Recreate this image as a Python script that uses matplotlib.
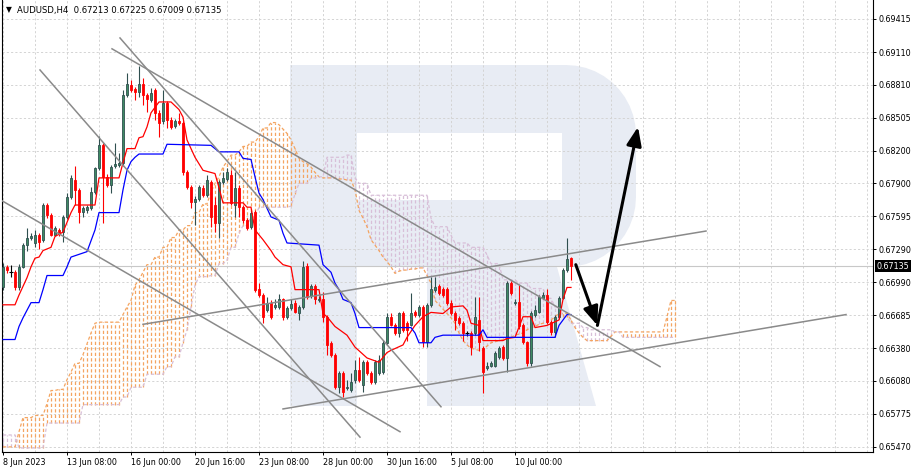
import numpy as np
import matplotlib.pyplot as plt
from matplotlib.path import Path
from matplotlib.patches import PathPatch
from matplotlib.transforms import blended_transform_factory

title = 'AUDUSD,H4  0.67213 0.67225 0.67009 0.67135'
last_price = 0.67135

# H4 candles, one entry per bar
open_ = [0.6694, 0.6713, 0.6708, 0.6708, 0.6694, 0.6713, 0.6733, 0.6740, 0.6735, 0.6742,
         0.6738, 0.6770, 0.6761, 0.6742, 0.6747, 0.6745, 0.6759, 0.6777, 0.6793, 0.6784,
         0.6764, 0.6765, 0.6767, 0.6782, 0.6804, 0.6825, 0.6796, 0.6788, 0.6806, 0.6807,
         0.6809, 0.6871, 0.6881, 0.6877, 0.6874, 0.6882, 0.6871, 0.6867, 0.6876, 0.6855,
         0.6847, 0.6864, 0.6848, 0.6843, 0.6847, 0.6846, 0.6800, 0.6787, 0.6773, 0.6776,
         0.6786, 0.6779, 0.6791, 0.6770, 0.6753, 0.6791, 0.6794, 0.6798, 0.6770, 0.6786,
         0.6768, 0.6756, 0.6750, 0.6764, 0.6693, 0.6687, 0.6673, 0.6680, 0.6676, 0.6676,
         0.6683, 0.6667, 0.6675, 0.6680, 0.6670, 0.6676, 0.6714, 0.6686, 0.6695, 0.6682,
         0.6683, 0.6667, 0.6643, 0.6632, 0.6602, 0.6615, 0.6601, 0.6599, 0.6609, 0.6618,
         0.6604, 0.6625, 0.6615, 0.6607, 0.6615, 0.6616, 0.6643, 0.6667, 0.6659, 0.6652,
         0.6670, 0.6661, 0.6659, 0.6671, 0.6669, 0.6676, 0.6644, 0.6678, 0.6692, 0.6695,
         0.6693, 0.6693, 0.6680, 0.6670, 0.6666, 0.6661, 0.6652, 0.6652, 0.6652, 0.6664,
         0.6638, 0.6620, 0.6622, 0.6622, 0.6630, 0.6639, 0.6629, 0.6698, 0.6680, 0.6681,
         0.6659, 0.6644, 0.6624, 0.6669, 0.6671, 0.6684, 0.6687, 0.6662, 0.6653, 0.6667,
         0.6684, 0.6710, 0.67213]
high = [0.6717, 0.6715, 0.6715, 0.6710, 0.6716, 0.6735, 0.6749, 0.6744, 0.6747, 0.6744,
        0.6772, 0.6772, 0.6763, 0.6751, 0.6749, 0.6761, 0.6781, 0.6798, 0.6806, 0.6786,
        0.6769, 0.6770, 0.6787, 0.6805, 0.6834, 0.6827, 0.6799, 0.6807, 0.6827, 0.6818,
        0.6876, 0.6892, 0.6885, 0.6879, 0.6898, 0.6887, 0.6873, 0.6878, 0.6878, 0.6858,
        0.6876, 0.6866, 0.6851, 0.6849, 0.6855, 0.6847, 0.6802, 0.6788, 0.6778, 0.6788,
        0.6788, 0.6798, 0.6793, 0.6777, 0.6793, 0.6800, 0.6804, 0.6802, 0.6800, 0.6788,
        0.6770, 0.6758, 0.6765, 0.6765, 0.6698, 0.6689, 0.6685, 0.6682, 0.6683, 0.6688,
        0.6684, 0.6677, 0.6683, 0.6682, 0.6678, 0.6718, 0.6717, 0.6697, 0.6697, 0.6686,
        0.6690, 0.6669, 0.6645, 0.6634, 0.6617, 0.6617, 0.6609, 0.6615, 0.6627, 0.6630,
        0.6627, 0.6627, 0.6617, 0.6627, 0.6632, 0.6646, 0.6670, 0.6670, 0.6661, 0.6671,
        0.6672, 0.6663, 0.6689, 0.6673, 0.6678, 0.6678, 0.6680, 0.6704, 0.6704, 0.6697,
        0.6694, 0.6694, 0.6682, 0.6672, 0.6668, 0.6663, 0.6654, 0.6654, 0.6685, 0.6685,
        0.6640, 0.6625, 0.6626, 0.6635, 0.6640, 0.6641, 0.6700, 0.6700, 0.6683, 0.6696,
        0.6661, 0.6645, 0.6672, 0.6678, 0.6687, 0.6690, 0.6693, 0.6664, 0.6669, 0.6686,
        0.6712, 0.6740, 0.67225]
low = [0.6692, 0.6707, 0.6704, 0.6692, 0.6692, 0.6712, 0.6728, 0.6738, 0.6731, 0.6729,
       0.6736, 0.6758, 0.6741, 0.6741, 0.6741, 0.6736, 0.6757, 0.6776, 0.6770, 0.6753,
       0.6759, 0.6763, 0.6765, 0.6780, 0.6802, 0.6753, 0.6787, 0.6781, 0.6804, 0.6805,
       0.6806, 0.6870, 0.6874, 0.6867, 0.6870, 0.6862, 0.6856, 0.6865, 0.6848, 0.6833,
       0.6845, 0.6841, 0.6840, 0.6841, 0.6844, 0.6798, 0.6785, 0.6767, 0.6752, 0.6774,
       0.6777, 0.6777, 0.6750, 0.6745, 0.6740, 0.6789, 0.6792, 0.6770, 0.6759, 0.6759,
       0.6753, 0.6747, 0.6748, 0.6690, 0.6685, 0.6661, 0.6671, 0.6665, 0.6674, 0.6674,
       0.6664, 0.6665, 0.6673, 0.6670, 0.6664, 0.6674, 0.6683, 0.6684, 0.6679, 0.6681,
       0.6662, 0.6632, 0.6630, 0.6600, 0.6597, 0.6593, 0.6599, 0.6598, 0.6606, 0.6607,
       0.6598, 0.6613, 0.6605, 0.6605, 0.6613, 0.6614, 0.6641, 0.6658, 0.6650, 0.6648,
       0.6653, 0.6645, 0.6658, 0.6667, 0.6667, 0.6639, 0.6639, 0.6676, 0.6690, 0.6687,
       0.6685, 0.6678, 0.6669, 0.6655, 0.6659, 0.6645, 0.6649, 0.6632, 0.6650, 0.6635,
       0.6597, 0.6618, 0.6621, 0.6621, 0.6628, 0.6627, 0.6616, 0.6687, 0.6678, 0.6656,
       0.6642, 0.6622, 0.6622, 0.6667, 0.6670, 0.6683, 0.6660, 0.6650, 0.6648, 0.6665,
       0.6683, 0.6708, 0.67009]
close = [0.6713, 0.6710, 0.6708, 0.6694, 0.6713, 0.6733, 0.6740, 0.6741, 0.6742, 0.6736,
         0.6770, 0.6761, 0.6742, 0.6749, 0.6743, 0.6759, 0.6777, 0.6795, 0.6784, 0.6764,
         0.6767, 0.6768, 0.6782, 0.6804, 0.6825, 0.6796, 0.6788, 0.6805, 0.6808, 0.6809,
         0.6871, 0.6882, 0.6876, 0.6874, 0.6882, 0.6871, 0.6868, 0.6873, 0.6855, 0.6846,
         0.6864, 0.6848, 0.6842, 0.6847, 0.6846, 0.6800, 0.6787, 0.6773, 0.6776, 0.6787,
         0.6779, 0.6793, 0.6759, 0.6753, 0.6791, 0.6795, 0.6800, 0.6772, 0.6786, 0.6768,
         0.6756, 0.6749, 0.6763, 0.6692, 0.6687, 0.6667, 0.6680, 0.6667, 0.6678, 0.6683,
         0.6667, 0.6675, 0.6679, 0.6671, 0.6676, 0.6713, 0.6685, 0.6695, 0.6683, 0.6683,
         0.6667, 0.6641, 0.6632, 0.6602, 0.6615, 0.6598, 0.6602, 0.6607, 0.6618, 0.6609,
         0.6625, 0.6615, 0.6607, 0.6625, 0.6627, 0.6643, 0.6667, 0.6659, 0.6652, 0.6670,
         0.6655, 0.6655, 0.6670, 0.6669, 0.6676, 0.6644, 0.6678, 0.6693, 0.6694, 0.6689,
         0.6687, 0.6680, 0.6670, 0.6664, 0.6661, 0.6652, 0.6652, 0.6639, 0.6667, 0.6644,
         0.6616, 0.6622, 0.6624, 0.6634, 0.6638, 0.6629, 0.6698, 0.6689, 0.6681, 0.6658,
         0.6644, 0.6624, 0.6670, 0.6673, 0.6685, 0.6687, 0.6662, 0.6653, 0.6667, 0.6684,
         0.6710, 0.6720, 0.67135]

# Ichimoku lines (bar index, price)
tenkan_bar = [0, 3, 4, 6, 7, 8, 9, 10, 12, 13, 15, 16, 17, 18, 23, 24, 29, 30, 31, 33,
              34, 35, 36, 37, 39, 42, 44, 45, 46, 48, 50, 53, 54, 55, 60, 61, 62, 63, 65, 67,
              68, 70, 72, 73, 79, 80, 81, 83, 86, 88, 91, 94, 96, 97, 100, 101, 103, 105, 107, 110,
              112, 115, 116, 117, 119, 120, 125, 126, 128, 130, 132, 133, 136, 139, 140, 141, 142]
tenkan = [0.6678, 0.6678, 0.6687, 0.6703, 0.6713, 0.6721, 0.6722, 0.6728, 0.6731, 0.6741,
          0.6745, 0.6754, 0.6763, 0.6770, 0.6770, 0.6795, 0.6795, 0.6809, 0.6822, 0.6822,
          0.6832, 0.6833, 0.6842, 0.6855, 0.6865, 0.6865, 0.6858, 0.6851, 0.6830, 0.6814,
          0.6802, 0.6799, 0.6786, 0.6772, 0.6772, 0.6768, 0.6768, 0.6747, 0.6738, 0.6728,
          0.6722, 0.6715, 0.6713, 0.6692, 0.6692, 0.6670, 0.6667, 0.6658, 0.6650, 0.6639,
          0.6629, 0.6625, 0.6634, 0.6636, 0.6641, 0.6648, 0.6659, 0.6667, 0.6671, 0.6670,
          0.6676, 0.6677, 0.6673, 0.6661, 0.6659, 0.6645, 0.6645, 0.6647, 0.6648, 0.6667,
          0.6667, 0.6657, 0.6659, 0.6664, 0.6683, 0.6694, 0.6694]
kijun_bar = [0, 3, 4, 5, 7, 9, 10, 11, 15, 16, 17, 21, 23, 24, 29, 30, 31, 32, 33, 34,
             40, 41, 52, 54, 59, 60, 62, 63, 64, 65, 67, 69, 70, 71, 79, 80, 82, 83, 84, 85,
             87, 88, 89, 102, 103, 104, 107, 108, 110, 119, 120, 121, 138, 139, 141, 142]
kijun = [0.6646, 0.6646, 0.6658, 0.6666, 0.6680, 0.6680, 0.6692, 0.6705, 0.6705, 0.6713,
         0.6722, 0.6727, 0.6747, 0.6763, 0.6763, 0.6784, 0.6802, 0.6810, 0.6814, 0.6817,
         0.6817, 0.6826, 0.6825, 0.6819, 0.6819, 0.6813, 0.6812, 0.6796, 0.6781, 0.6775,
         0.6759, 0.6756, 0.6744, 0.6735, 0.6733, 0.6715, 0.6708, 0.6698, 0.6692, 0.6683,
         0.6680, 0.6670, 0.6657, 0.6657, 0.6652, 0.6643, 0.6643, 0.6648, 0.6650, 0.6650,
         0.6655, 0.6648, 0.6648, 0.6659, 0.6669, 0.6669]

# cloud spans, one value per bar (already shifted 26 bars ahead)
span_a = [0.6547, 0.6547, 0.6547, 0.6547, 0.6561, 0.6574, 0.6574, 0.6574, 0.6576, 0.6576,
          0.6576, 0.6587, 0.6599, 0.6599, 0.6600, 0.6600, 0.6609, 0.6616, 0.6624, 0.6624,
          0.6632, 0.6642, 0.6652, 0.6661, 0.6662, 0.6662, 0.6662, 0.6662, 0.6662, 0.6662,
          0.6669, 0.6676, 0.6682, 0.6696, 0.6701, 0.6708, 0.6715, 0.6715, 0.6722, 0.6722,
          0.6731, 0.6731, 0.6740, 0.6740, 0.6747, 0.6747, 0.6751, 0.6751, 0.6763, 0.6763,
          0.6771, 0.6771, 0.6782, 0.6790, 0.6796, 0.6805, 0.6810, 0.6816, 0.6816, 0.6819,
          0.6824, 0.6824, 0.6828, 0.6828, 0.6833, 0.6841, 0.6841, 0.6846, 0.6846, 0.6844,
          0.6840, 0.6836, 0.6830, 0.6822, 0.6813, 0.6810, 0.6808, 0.6805, 0.6800, 0.6796,
          0.6795, 0.6795, 0.6795, 0.6795, 0.6794, 0.6794, 0.6793, 0.6793, 0.6784, 0.6765,
          0.6758, 0.6750, 0.6738, 0.6733, 0.6728, 0.6722, 0.6718, 0.6713, 0.6707, 0.6709,
          0.6710, 0.6710, 0.6711, 0.6711, 0.6712, 0.6712, 0.6705, 0.6698, 0.6682, 0.6678,
          0.6674, 0.6670, 0.6666, 0.6661, 0.6652, 0.6645, 0.6641, 0.6638, 0.6637, 0.6636,
          0.6636, 0.6640, 0.6643, 0.6644, 0.6645, 0.6646, 0.6647, 0.6648, 0.6650, 0.6651,
          0.6652, 0.6655, 0.6657, 0.6658, 0.6660, 0.6661, 0.6662, 0.6664, 0.6667, 0.6670,
          0.6670, 0.6670, 0.6664, 0.6657, 0.6652, 0.6648, 0.6645, 0.6645, 0.6645, 0.6645,
          0.6645, 0.6645, 0.6649, 0.6653, 0.6653, 0.6653, 0.6653, 0.6653, 0.6653, 0.6653,
          0.6653, 0.6653, 0.6653, 0.6653, 0.6653, 0.6653, 0.6667, 0.6682, 0.6682]
span_b = [0.6558, 0.6558, 0.6558, 0.6558, 0.6546, 0.6546, 0.6546, 0.6546, 0.6546, 0.6546,
          0.6546, 0.6569, 0.6569, 0.6569, 0.6569, 0.6569, 0.6569, 0.6569, 0.6569, 0.6569,
          0.6586, 0.6586, 0.6586, 0.6586, 0.6586, 0.6586, 0.6586, 0.6586, 0.6586, 0.6586,
          0.6593, 0.6593, 0.6602, 0.6602, 0.6602, 0.6602, 0.6614, 0.6614, 0.6614, 0.6614,
          0.6614, 0.6621, 0.6621, 0.6630, 0.6630, 0.6643, 0.6655, 0.6676, 0.6696, 0.6704,
          0.6704, 0.6704, 0.6705, 0.6705, 0.6716, 0.6716, 0.6719, 0.6731, 0.6731, 0.6744,
          0.6751, 0.6751, 0.6759, 0.6759, 0.6768, 0.6768, 0.6768, 0.6768, 0.6768, 0.6768,
          0.6768, 0.6768, 0.6769, 0.6780, 0.6790, 0.6790, 0.6790, 0.6795, 0.6795, 0.6796,
          0.6796, 0.6814, 0.6814, 0.6814, 0.6814, 0.6814, 0.6816, 0.6816, 0.6795, 0.6790,
          0.6790, 0.6790, 0.6779, 0.6779, 0.6779, 0.6779, 0.6779, 0.6779, 0.6779, 0.6779,
          0.6779, 0.6779, 0.6779, 0.6779, 0.6779, 0.6779, 0.6779, 0.6758, 0.6750, 0.6750,
          0.6750, 0.6750, 0.6742, 0.6735, 0.6735, 0.6735, 0.6735, 0.6731, 0.6731, 0.6731,
          0.6731, 0.6724, 0.6716, 0.6716, 0.6716, 0.6701, 0.6701, 0.6701, 0.6701, 0.6698,
          0.6698, 0.6698, 0.6693, 0.6693, 0.6693, 0.6693, 0.6684, 0.6684, 0.6676, 0.6676,
          0.6667, 0.6667, 0.6661, 0.6661, 0.6661, 0.6657, 0.6657, 0.6655, 0.6655, 0.6655,
          0.6655, 0.6655, 0.6655, 0.6653, 0.6653, 0.6648, 0.6648, 0.6648, 0.6648, 0.6648,
          0.6648, 0.6648, 0.6648, 0.6648, 0.6648, 0.6648, 0.6648, 0.6648, 0.6648]

# drawn objects: (bar0, price0, bar1, price1)
trend_lines = [(9.25, 0.68945, 89.25, 0.6556),
               (29.25, 0.6924, 109.5, 0.6584),
               (27.25, 0.6914, 164.25, 0.6621),
               (-0.75, 0.6775, 99.25, 0.6561),
               (70.0, 0.6582, 210.75, 0.6669),
               (35.0, 0.6660, 175.75, 0.6746)]
arrows = [(143.2, 0.6715, 148.6, 0.6659),
          (148.6, 0.6659, 158.75, 0.6842)]

price_ticks = [0.69415, 0.69110, 0.68810, 0.68505, 0.68200, 0.67900, 0.67595,
               0.67290, 0.66990, 0.66685, 0.66380, 0.66080, 0.65775, 0.65470]
time_ticks = [0, 16, 32, 48, 64, 80, 96, 112, 128]
time_labels = ['8 Jun 2023', '13 Jun 08:00', '16 Jun 00:00', '20 Jun 16:00', '23 Jun 08:00',
               '28 Jun 00:00', '30 Jun 16:00', '5 Jul 08:00', '10 Jul 00:00']

W, H = 919, 472
fig = plt.figure(figsize=(W / 100, H / 100), dpi=100)
ax = fig.add_axes([2 / W, 20 / H, 871 / W, 452 / H])
ax.set_xlim(-0.25, 217.5)
ax.set_ylim(0.65423, 0.69590)


# watermark "R" in pixel units of the chart box
def box(pts):
    return [((x - 2) / 871, (452 - y) / 452) for x, y in pts]


def corner(cx, cy, r, a0, a1):
    t = np.radians(np.linspace(a0, a1, 12))
    return list(zip(cx + r * np.cos(t), cy - r * np.sin(t)))


outer = [(290, 65)] + corner(566, 135, 70, 90, 0) + corner(566, 197, 70, 0, -90) + \
    [(557, 267), (596, 406), (427, 406), (427, 267), (357, 267), (357, 406), (290, 406)]
hole = [(357, 133), (357, 200), (562, 200), (562, 133)]
verts = box(outer) + [(0, 0)] + box(hole) + [(0, 0)]
codes = ([Path.MOVETO] + [Path.LINETO] * (len(outer) - 1) + [Path.CLOSEPOLY]
         + [Path.MOVETO] + [Path.LINETO] * (len(hole) - 1) + [Path.CLOSEPOLY])
ax.add_patch(PathPatch(Path(verts, codes), transform=ax.transAxes,
                       fc='#e8ecf4', ec='none', zorder=0))

# grid
grid_kw = dict(color='#d4d4d4', lw=0.7, ls=(0, (2.2, 2.2)), zorder=0.5)
for p in price_ticks:
    ax.axhline(p, **grid_kw)
for b in range(0, 218, 8):
    ax.axvline(b, **grid_kw)

# Ichimoku cloud: one dashed stroke per bar between the two spans
orange, thistle = '#f4a460', '#d8bfd8'
dash = (0, (2.6, 1.8))
for i, (sa, sb) in enumerate(zip(span_a, span_b)):
    col = orange if sa >= sb else thistle
    ax.plot([i, i], [min(sa, sb), max(sa, sb)], color=col, lw=0.9, ls=dash,
            dash_capstyle='butt', zorder=1)
ax.plot(range(len(span_a)), span_a, color=orange, lw=0.9, ls=dash, zorder=1.2)
ax.plot(range(len(span_b)), span_b, color=thistle, lw=0.9, ls=dash, zorder=1.2)

ax.axhline(last_price, color='#c8c8c8', lw=0.8, zorder=1.5)

# candles
o, h, l, c = (np.array(v) for v in (open_, high, low, close))
x = np.arange(len(c))
bull, bear, doji = c > o, c < o, c == o
edge_up, fill_up = '#2f4f4f', '#3e8a63'
ax.vlines(x[bull], l[bull], h[bull], colors=edge_up, lw=0.8, zorder=3)
ax.vlines(x[bear], l[bear], h[bear], colors='red', lw=0.8, zorder=3)
ax.vlines(x[doji], l[doji], h[doji], colors='black', lw=0.8, zorder=3)
ax.bar(x[bull], c[bull] - o[bull], bottom=o[bull], width=0.62, color=fill_up,
       edgecolor=edge_up, lw=0.6, zorder=3.2)
ax.bar(x[bear], o[bear] - c[bear], bottom=c[bear], width=0.72, color='red',
       edgecolor='red', lw=0.6, zorder=3.2)
ax.hlines(c[doji], x[doji] - 0.4, x[doji] + 0.4, colors='black', lw=0.8, zorder=3.2)

# Tenkan / Kijun
ax.plot(tenkan_bar, tenkan, color='red', lw=0.9, zorder=4)
ax.plot(kijun_bar, kijun, color='blue', lw=0.9, zorder=4)

# trend lines and arrows
for b0, p0, b1, p1 in trend_lines:
    ax.plot([b0, b1], [p0, p1], color='#8a8a8a', lw=1.1, zorder=5)
for b0, p0, b1, p1 in arrows:
    ax.annotate('', xy=(b1, p1), xytext=(b0, p0), zorder=6,
                arrowprops=dict(arrowstyle='-|>,head_length=0.8,head_width=0.32',
                                color='black', lw=2.2, mutation_scale=14,
                                shrinkA=0, shrinkB=0))

# axes styling
for side in ('left', 'right', 'bottom'):
    ax.spines[side].set_color('black')
    ax.spines[side].set_linewidth(0.8)
ax.spines['top'].set_visible(False)
ax.yaxis.tick_right()
ax.set_yticks(price_ticks)
ax.set_yticklabels(['%.5f' % p for p in price_ticks])
ax.set_xticks(time_ticks)
ax.set_xticklabels(time_labels, ha='left')
ax.tick_params(axis='y', length=2.5, width=0.7, pad=1.5, labelsize=5.8)
ax.tick_params(axis='x', length=2.5, width=0.7, pad=2, labelsize=5.8)

tr = blended_transform_factory(ax.transAxes, ax.transData)
ax.text(1.004, last_price, '%.5f' % last_price, transform=tr, ha='left', va='center',
        fontsize=5.8, color='white',
        bbox=dict(boxstyle='square,pad=0.2', fc='black', ec='none'))

fig.text(6 / W, 1 - 10 / H, '\u25bc', fontsize=5.5, va='center', ha='left')
fig.text(17 / W, 1 - 10 / H, title, fontsize=6.1, va='center', ha='left')

fig.savefig('out.png', dpi=100)
